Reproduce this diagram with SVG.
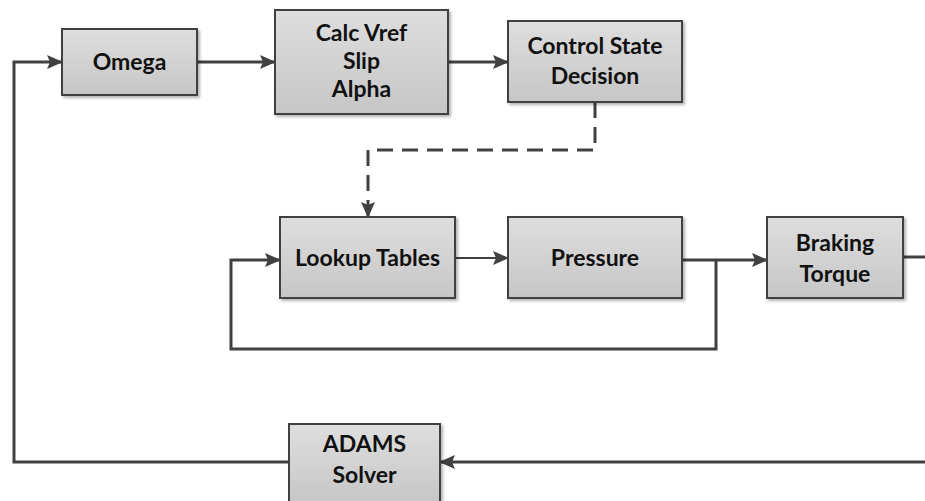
<svg xmlns="http://www.w3.org/2000/svg" width="925" height="501" viewBox="0 0 925 501">
<defs>
<linearGradient id="g" x1="0" y1="0" x2="0" y2="1">
<stop offset="0" stop-color="#dedede"/>
<stop offset="1" stop-color="#c6c6c6"/>
</linearGradient>
<filter id="sh" x="-10%" y="-10%" width="130%" height="130%">
<feDropShadow dx="2" dy="2" stdDeviation="1.5" flood-color="#000" flood-opacity="0.3"/>
</filter>
<marker id="ah" viewBox="0 0 16 14" refX="15" refY="7" markerWidth="16" markerHeight="14" markerUnits="userSpaceOnUse" orient="auto">
<path d="M0,0 L16,7 L0,14 L3,7 Z" fill="#404040"/>
</marker>
</defs>
<style>
.box{fill:url(#g);stroke:#404040;stroke-width:2;filter:url(#sh)}
.t{font-family:Lato,"Open Sans","Liberation Sans",sans-serif;font-weight:bold;font-size:23px;fill:#111;text-anchor:middle}
.c{fill:none;stroke:#404040;stroke-width:3}
.thin{fill:none;stroke:#404040;stroke-width:2}
</style>
<rect width="925" height="501" fill="#fff"/>
<g id="connectors">
<path class="c" d="M197,62 H275" marker-end="url(#ah)"/>
<path class="c" d="M448,62 H508" marker-end="url(#ah)"/>
<path class="c" d="M595,102 V150 H368 V217" stroke-dasharray="16,9" marker-end="url(#ah)"/>
<path class="thin" d="M455,258 H508" marker-end="url(#ah)"/>
<path class="c" d="M682,260 H767" marker-end="url(#ah)"/>
<path class="c" d="M716,260 V349 H231 V260 H280" marker-end="url(#ah)"/>
<path class="c" d="M903,257 H925"/>
<path class="c" d="M925,462 H440" marker-end="url(#ah)"/>
<path class="c" d="M289,462 H14 V62 H62" marker-end="url(#ah)"/>
</g>
<g id="omega"><rect class="box" x="62" y="29" width="135" height="66"/><text class="t" x="129.5" y="70">Omega</text></g>
<g id="calc"><rect class="box" x="275" y="10" width="173" height="104"/><text class="t" x="361.5" y="41">Calc Vref</text><text class="t" x="361.5" y="69">Slip</text><text class="t" x="361.5" y="97">Alpha</text></g>
<g id="control"><rect class="box" x="508" y="21" width="174" height="81"/><text class="t" x="595" y="54">Control State</text><text class="t" x="595" y="84">Decision</text></g>
<g id="lookup"><rect class="box" x="280" y="217" width="175" height="81"/><text class="t" x="367.5" y="266">Lookup Tables</text></g>
<g id="pressure"><rect class="box" x="508" y="217" width="174" height="81"/><text class="t" x="595" y="266">Pressure</text></g>
<g id="braking"><rect class="box" x="767" y="217" width="136" height="81"/><text class="t" x="835" y="251">Braking</text><text class="t" x="835" y="282">Torque</text></g>
<g id="adams"><rect class="box" x="289" y="424" width="151" height="80"/><text class="t" x="364.5" y="452">ADAMS</text><text class="t" x="364.5" y="483">Solver</text></g>
</svg>
